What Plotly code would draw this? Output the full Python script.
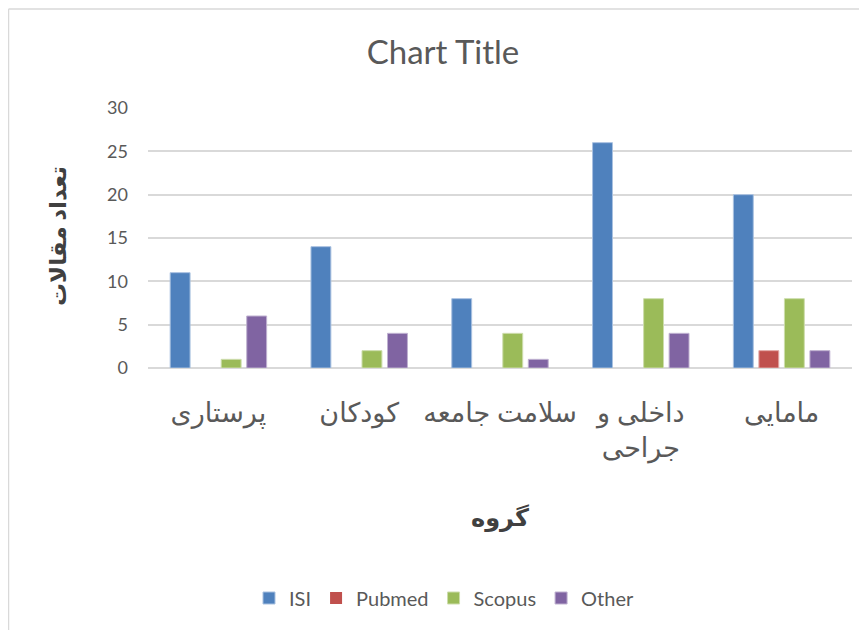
import plotly.graph_objects as go

categories = ["پرستاری", "کودکان", "سلامت جامعه", "داخلی و<br>جراحی", "مامایی"]
isi = [11, 14, 8, 26, 20]
pubmed = [0, 0, 0, 0, 2]
scopus = [1, 2, 4, 8, 8]
other = [6, 4, 1, 4, 2]

series = [
    ("ISI", isi, "#4F81BD", "#A9C1E0"),
    ("Pubmed", pubmed, "#C0504D", "#E3A9A7"),
    ("Scopus", scopus, "#9BBB59", "#CDDDAC"),
    ("Other", other, "#8064A2", "#BFB1D0"),
]

FONT = "Lato, 'DejaVu Sans', sans-serif"
GREY = "#595959"

fig = go.Figure()
for name, vals, col, edge in series:
    fig.add_trace(go.Bar(
        name=name, x=categories, y=vals,
        marker=dict(color=col,
                    line=dict(color=edge, width=[0 if v == 0 else 1 for v in vals])),
    ))

OFF = 8  # page body margin
W, H = 867 - OFF, 630 - OFF
# plot area in reference pixels: x 148..852, y 108..368
L, R, T = 148 - OFF, 867 - 852, 108 - OFF
B = H - (368 - OFF)
pw, ph = W - L - R, H - T - B

def px_x(p):
    return (p - OFF - L) / pw

def px_y(p):
    return (368 - p) / ph

fig.update_layout(
    width=W, height=H,
    margin=dict(l=L, r=R, t=T, b=B, autoexpand=False),
    paper_bgcolor="white", plot_bgcolor="white",
    barmode="group", bargap=0.275, bargroupgap=0.22,
    font=dict(family=FONT, color=GREY, size=16),
    title=dict(text="Chart Title", x=px_x(443), xref="paper", xanchor="center",
               y=1 - (52 - OFF) / H, yref="container", yanchor="middle",
               font=dict(size=33, color=GREY, family=FONT)),
    legend=dict(orientation="h", x=px_x(444), xanchor="center",
                y=px_y(598), yanchor="middle",
                font=dict(size=20, color=GREY, family=FONT),
                itemwidth=30, traceorder="normal"),
    xaxis=dict(
        showgrid=False, showline=False, zeroline=False,
        tickfont=dict(size=27, color=GREY, family=FONT),
        ticklabelstandoff=26,
        title=dict(text="<b>گروه</b>", font=dict(size=24, color="#404040", family=FONT),
                   standoff=46),
    ),
    yaxis=dict(
        range=[0, 30], dtick=5, showgrid=True, gridcolor="#D9D9D9", gridwidth=1.5,
        zeroline=True, zerolinecolor="#D9D9D9", zerolinewidth=1.5,
        showline=False,
        tickfont=dict(size=18, color=GREY, family=FONT),
        ticklabelstandoff=19,
    ),
    annotations=[
        dict(text="<b>تعداد مقالات</b>", textangle=-90, showarrow=False,
             xref="paper", yref="paper", x=px_x(57), y=px_y(236),
             xanchor="center", yanchor="middle",
             font=dict(size=23, color="#404040", family=FONT)),
    ],
    shapes=[
        dict(type="line", xref="paper", yref="paper",
             x0=px_x(8.5), x1=px_x(867), y0=px_y(9), y1=px_y(9),
             line=dict(color="#D9D9D9", width=1.5)),
        dict(type="line", xref="paper", yref="paper",
             x0=px_x(8.5), x1=px_x(8.5), y0=px_y(9), y1=px_y(640),
             line=dict(color="#D9D9D9", width=1.5)),
    ],
)

fig.write_html("out.html")
